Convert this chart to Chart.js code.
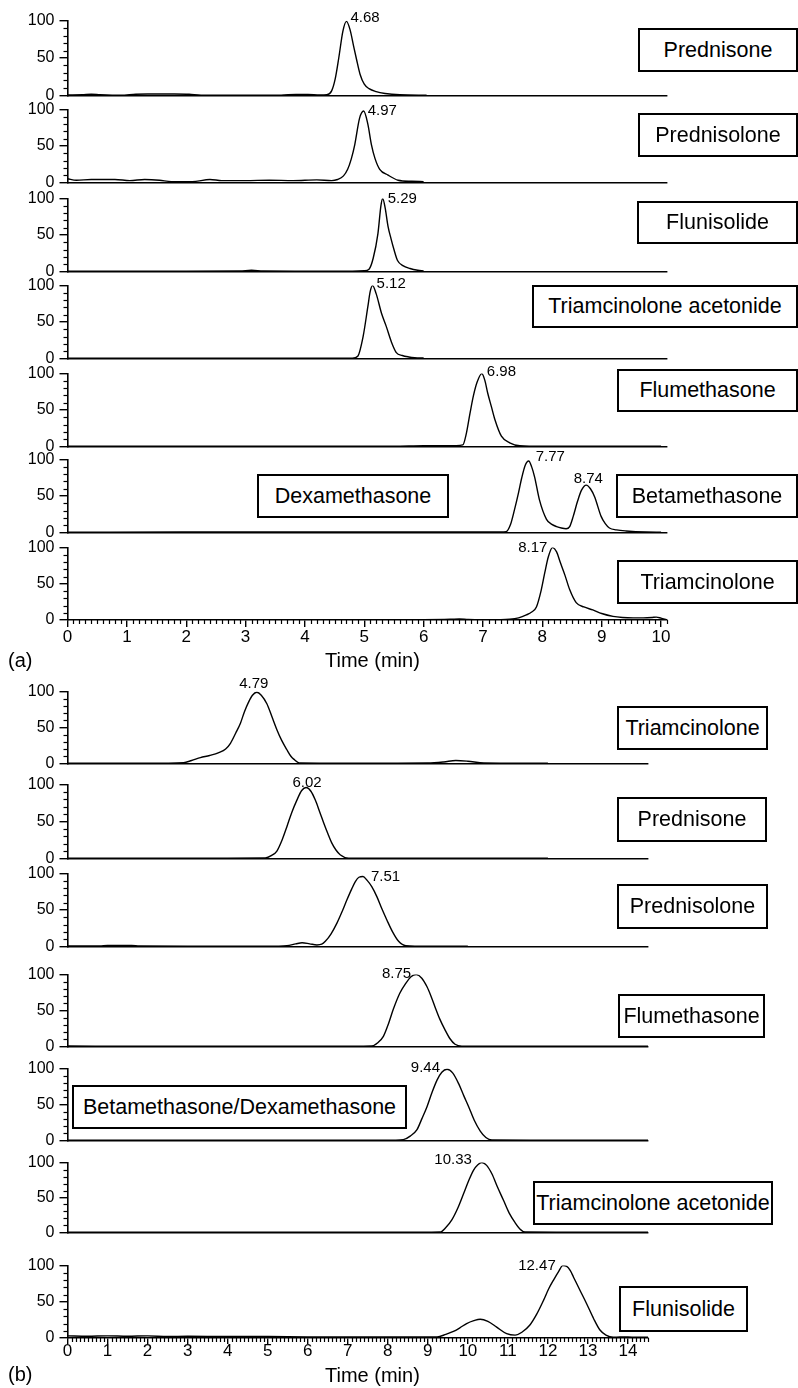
<!DOCTYPE html>
<html><head><meta charset="utf-8">
<script src="https://cdn.jsdelivr.net/npm/chart.js@4.4.1/dist/chart.umd.min.js"></script>
<style>
html,body{margin:0;padding:0;background:#fff;}
#root{position:relative;width:798px;height:1388px;overflow:hidden;background:#fff;}
#root canvas{position:absolute;left:0;}
.box{position:absolute;box-sizing:border-box;border:2px solid #000;background:#fff;font:21.5px "Liberation Sans",Arial,sans-serif;display:flex;align-items:center;justify-content:center;white-space:nowrap;color:#000;z-index:5;}
.txt{position:absolute;font:20px "Liberation Sans",Arial,sans-serif;line-height:24px;color:#000;white-space:nowrap;z-index:5;}
</style></head><body><div id="root"></div>
<script>
// ---------------- DATA: panel (a) ----------------
const a1Time   = [0, 0.25, 0.4, 0.55, 0.9, 1.15, 1.35, 1.8, 2.05, 2.25, 3.0, 3.6, 3.85, 4.05, 4.25, 4.37, 4.45, 4.51, 4.57, 4.64, 4.7, 4.76, 4.82, 4.87, 4.93, 5.0, 5.08, 5.2, 5.35, 5.6, 6.05];
const a1Signal = [0.5, 0.8, 1.6, 1.0, 0.3, 1.6, 1.8, 1.8, 1.5, 0.3, 0.2, 0.4, 1.2, 1.2, 0.6, 1, 6, 22, 50, 86, 99, 88, 66, 48, 28, 15, 9, 5, 2.5, 0.8, 0.3];
const a2Time   = [0, 0.15, 0.4, 0.8, 1.05, 1.3, 1.55, 1.75, 2.1, 2.4, 2.6, 3.0, 3.4, 3.8, 4.2, 4.45, 4.55, 4.65, 4.72, 4.78, 4.84, 4.92, 4.99, 5.06, 5.12, 5.18, 5.26, 5.4, 5.57, 5.8, 6.0];
const a2Signal = [5, 3, 4, 4, 2.5, 4, 3, 1, 1, 4, 2.5, 2.5, 3, 2.5, 3.5, 2.5, 4, 9, 18, 32, 52, 88, 98, 80, 52, 33, 18, 10, 3, 1.5, 1];
const a3Time   = [0, 1, 2, 2.9, 3.1, 3.3, 4, 4.8, 5.0, 5.08, 5.15, 5.23, 5.28, 5.31, 5.35, 5.4, 5.45, 5.5, 5.56, 5.65, 5.77, 5.9, 6.0];
const a3Signal = [0.3, 0.3, 0.3, 0.5, 1.5, 0.5, 0.3, 0.3, 0.8, 3, 18, 52, 90, 100, 88, 62, 45, 30, 15, 8, 4, 1.5, 0.5];
const a4Time   = [0, 2, 4, 4.8, 4.89, 4.98, 5.06, 5.1, 5.14, 5.2, 5.29, 5.37, 5.46, 5.54, 5.64, 5.75, 5.85, 6.0];
const a4Signal = [0.3, 0.3, 0.3, 0.3, 3, 30, 71, 92, 100, 89, 62, 44, 22, 8, 4, 2, 1, 0.5];
const a5Time   = [0, 3, 5.5, 6.0, 6.3, 6.55, 6.66, 6.72, 6.78, 6.84, 6.9, 6.98, 7.03, 7.08, 7.14, 7.2, 7.31, 7.45, 7.62, 8, 9, 10];
const a5Signal = [0.3, 0.3, 0.3, 1, 1, 1, 2, 18, 45, 70, 88, 100, 91, 73, 55, 37, 14, 5, 1, 0.3, 0.3, 0.3];
const a6Time   = [0, 2, 4, 6, 7.0, 7.3, 7.39, 7.46, 7.53, 7.6, 7.65, 7.71, 7.77, 7.82, 7.87, 7.95, 8.07, 8.16, 8.24, 8.32, 8.4, 8.46, 8.52, 8.59, 8.66, 8.74, 8.81, 8.88, 8.99, 9.06, 9.13, 9.25, 9.41, 9.75, 10];
const a6Signal = [0.3, 0.5, 0.5, 0.5, 0.5, 0.5, 1, 10, 31, 55, 74, 92, 98, 90, 76, 45, 18, 11, 8, 6, 5, 8, 22, 42, 58, 65, 60, 49, 22, 12, 6, 3.5, 2, 0.5, 0.3];
const a7Time   = [0, 2, 4, 6, 6.45, 6.6, 6.75, 7.0, 7.3, 7.45, 7.6, 7.73, 7.82, 7.9, 7.98, 8.04, 8.1, 8.17, 8.24, 8.3, 8.38, 8.46, 8.57, 8.7, 8.85, 9.0, 9.19, 9.35, 9.53, 9.7, 9.85, 9.92, 10.0, 10.09];
const a7Signal = [0.3, 0.3, 0.3, 0.5, 1, 1.5, 0.8, 0.5, 0.5, 1, 3, 7, 11, 18, 41, 65, 87, 100, 94, 80, 62, 42, 24, 18, 14, 9, 5, 3.5, 3, 3, 3.5, 4, 2.5, 0.5];

// ---------------- DATA: panel (b) ----------------
const b1Time   = [0, 1, 2, 2.9, 3.1, 3.32, 3.55, 3.78, 3.95, 4.07, 4.2, 4.32, 4.42, 4.52, 4.62, 4.73, 4.84, 4.98, 5.1, 5.23, 5.35, 5.48, 5.58, 5.65, 5.81, 6.5, 8, 9.0, 9.4, 9.7, 10.0, 10.4, 11, 12];
const b1Signal = [0.3, 0.3, 0.3, 1, 4, 8, 11, 15, 20, 28, 42, 56, 72, 85, 95, 99, 95, 83, 66, 47, 32, 19, 10, 6, 0.5, 0.3, 0.3, 0.5, 2, 4, 3, 0.5, 0.3, 0.3];
const b2Time   = [0, 2, 4, 4.94, 5.1, 5.23, 5.36, 5.48, 5.6, 5.73, 5.85, 5.96, 6.08, 6.19, 6.3, 6.4, 6.5, 6.6, 6.71, 6.81, 7.02, 8, 10, 12];
const b2Signal = [0.3, 0.3, 0.3, 0.5, 4, 10, 25, 43, 62, 79, 92, 96, 91, 79, 63, 48, 34, 21, 11, 5, 0.3, 0.3, 0.3, 0.3];
const b3Time   = [0, 0.8, 1.0, 1.6, 1.8, 3, 5, 5.48, 5.7, 5.86, 6.05, 6.23, 6.35, 6.44, 6.58, 6.73, 6.86, 6.98, 7.1, 7.19, 7.28, 7.38, 7.48, 7.6, 7.73, 7.85, 7.98, 8.12, 8.27, 8.45, 9, 10];
const b3Signal = [0.5, 0.5, 1.2, 1.2, 0.5, 0.3, 0.3, 1, 3.5, 5, 3.5, 2, 3, 7, 17, 32, 48, 64, 79, 89, 95, 96, 91, 82, 68, 52, 36, 20, 7, 1, 0.3, 0.3];
const b4Time   = [0, 2, 4, 6, 7.3, 7.6, 7.75, 7.89, 8.02, 8.14, 8.3, 8.44, 8.58, 8.71, 8.85, 8.98, 9.08, 9.18, 9.3, 9.43, 9.55, 9.68, 9.85, 11, 14.5];
const b4Signal = [0.5, 0.3, 0.3, 0.3, 0.3, 0.5, 5, 14, 32, 52, 74, 87, 97, 100, 95, 83, 70, 55, 38, 23, 11, 3, 0.3, 0.3, 0.3];
const b5Time   = [0, 2, 4, 6, 7.5, 8.2, 8.39, 8.56, 8.73, 8.85, 8.98, 9.1, 9.23, 9.35, 9.48, 9.62, 9.77, 9.9, 10.02, 10.16, 10.31, 10.45, 10.6, 12, 14.5];
const b5Signal = [0.3, 0.3, 0.3, 0.3, 0.3, 0.3, 1, 6, 15, 30, 47, 66, 84, 95, 99, 94, 79, 62, 47, 28, 13, 4, 0.5, 0.3, 0.3];
const b6Time   = [0, 3, 6, 9, 9.31, 9.45, 9.6, 9.75, 9.89, 10.02, 10.14, 10.25, 10.35, 10.47, 10.6, 10.74, 10.89, 11.03, 11.18, 11.3, 11.43, 12.5, 14.5];
const b6Signal = [0.3, 0.3, 0.3, 0.3, 0.5, 7, 18, 35, 55, 74, 89, 97, 100, 96, 84, 65, 46, 28, 14, 5, 0.5, 0.3, 0.3];
const b7Time   = [0, 0.5, 1, 1.5, 2, 2.5, 3, 4, 5, 6, 7, 8, 8.8, 9.23, 9.45, 9.64, 9.8, 9.97, 10.15, 10.31, 10.5, 10.72, 10.97, 11.18, 11.35, 11.55, 11.72, 11.89, 12.02, 12.14, 12.27, 12.37, 12.47, 12.56, 12.64, 12.8, 12.97, 13.14, 13.3, 13.45, 13.63, 13.8, 14.0, 14.2, 14.5];
const b7Signal = [3, 2.5, 3, 2.5, 3, 2, 2.5, 2, 2, 1.5, 1.5, 1.5, 1.5, 1.5, 5, 9, 14, 20, 24, 26, 23, 15, 6, 4, 8, 18, 33, 52, 68, 80, 92, 100, 99, 93, 84, 66, 47, 27, 11, 4, 1, 1.5, 1.5, 1, 1];

// ---------------- names, peak labels, ticks ----------------
const namesA = [['Prednisone'], ['Prednisolone'], ['Flunisolide'], ['Triamcinolone acetonide'], ['Flumethasone'], ['Dexamethasone', 'Betamethasone'], ['Triamcinolone']];
const namesB = [['Triamcinolone'], ['Prednisone'], ['Prednisolone'], ['Flumethasone'], ['Betamethasone/Dexamethasone'], ['Triamcinolone acetonide'], ['Flunisolide']];
const peaksA = [['4.68'], ['4.97'], ['5.29'], ['5.12'], ['6.98'], ['7.77', '8.74'], ['8.17']];
const peaksB = [['4.79'], ['6.02'], ['7.51'], ['8.75'], ['9.44'], ['10.33'], ['12.47']];
const yTickValues = [0, 50, 100];
const xTicksA = [0, 1, 2, 3, 4, 5, 6, 7, 8, 9, 10];
const xTicksB = [0, 1, 2, 3, 4, 5, 6, 7, 8, 9, 10, 11, 12, 13, 14];
const xTitle = 'Time (min)';

const timesA = [a1Time, a2Time, a3Time, a4Time, a5Time, a6Time, a7Time];
const signalsA = [a1Signal, a2Signal, a3Signal, a4Signal, a5Signal, a6Signal, a7Signal];
const timesB = [b1Time, b2Time, b3Time, b4Time, b5Time, b6Time, b7Time];
const signalsB = [b1Signal, b2Signal, b3Signal, b4Signal, b5Signal, b6Signal, b7Signal];

// ---------------- LAYOUT (positions / styles only) ----------------
const layoutA = {xMax: 10.1, right: 667, tickPad: 0, tickLen: 7,
  panels: [{top:20,bottom:96},{top:109,bottom:183},{top:198,bottom:272},{top:285,bottom:359},{top:373,bottom:447},{top:459,bottom:533},{top:547,bottom:620}],
  boxes: [[[638,28,160,44]],[[638,113,160,44]],[[637,201,161,43]],[[532,285,266,43]],[[617,369,181,43]],[[257,474,192,44],[616,474,182,44]],[[617,560,181,44]]],
  labelStyle: [[{side:'right',dx:4,dy:-3}],[{side:'right',dx:4,dy:0}],[{side:'right',dx:5,dy:0}],[{side:'right',dx:4,dy:-2}],[{side:'right',dx:5,dy:-2}],[{side:'right',dx:7,dy:-4},{side:'above',dx:2,dy:-2}],[{side:'left',dx:-5,dy:0}]],
  tag: {text:'(a)', x:8, y:648}, title: {x:325, y:648}};
const layoutB = {xMax: 14.5, right: 648, tickPad: -3, tickLen: 6,
  panels: [{top:691,bottom:764},{top:784,bottom:859},{top:873,bottom:947},{top:974,bottom:1047},{top:1068,bottom:1141},{top:1162,bottom:1233},{top:1265,bottom:1338}],
  boxes: [[[617,706,151,44]],[[617,797,150,45]],[[617,884,151,45]],[[618,994,147,44]],[[72,1085,335,44]],[[533,1181,240,44]],[[619,1286,129,46]]],
  labelStyle: [[{side:'above',dx:-3,dy:-4}],[{side:'above',dx:1,dy:-1}],[{side:'right',dx:8,dy:0}],[{side:'left',dx:-5,dy:-1}],[{side:'left',dx:-7,dy:-1}],[{side:'left',dx:-10,dy:-3}],[{side:'left',dx:-7,dy:0}]],
  tag: {text:'(b)', x:8, y:1362}, title: {x:325, y:1363}};

const FONT = '"Liberation Sans", Arial, Helvetica, sans-serif';
Chart.defaults.font.family = FONT;
Chart.defaults.color = '#000';

// draws minor ticks through the chart's own scales
const minorTicks = {
  id: 'minorTicks',
  afterDraw(chart, args, opts) {
    const ctx = chart.ctx;
    ctx.save();
    ctx.strokeStyle = '#000';
    ctx.lineWidth = 1.2;
    const ys = chart.scales.y;
    for (let v = ys.min + opts.yStep; v < ys.max - 1e-6; v += opts.yStep) {
      if (yTickValues.some(t => Math.abs(t - v) < 1e-6)) continue;
      const py = Math.round(ys.getPixelForValue(v)) + 0.5;
      ctx.beginPath(); ctx.moveTo(ys.right - opts.yLen, py); ctx.lineTo(ys.right, py); ctx.stroke();
    }
    if (opts.xStep) {
      const xs = chart.scales.x;
      const n = Math.floor(xs.max / opts.xStep + 1e-6);
      for (let i = 1; i <= n; i++) {
        const v = i * opts.xStep;
        if (Math.abs(v - Math.round(v)) < 1e-6) continue;
        const px = Math.round(xs.getPixelForValue(v)) + 0.5;
        ctx.beginPath(); ctx.moveTo(px, xs.top); ctx.lineTo(px, xs.top + opts.xLen); ctx.stroke();
      }
    }
    ctx.restore();
  }
};

// writes the retention-time labels next to the peaks
const peakLabels = {
  id: 'peakLabels',
  afterDatasetsDraw(chart, args, opts) {
    const items = opts.items || [];
    const ctx = chart.ctx, xs = chart.scales.x, ys = chart.scales.y;
    const data = chart.data.datasets[0].data;
    ctx.save();
    ctx.font = '15px ' + FONT;
    ctx.fillStyle = '#000';
    items.forEach(it => {
      const t = parseFloat(it.text);
      let best = null;
      data.forEach(d => { if (Math.abs(d.x - t) <= 0.3 && (!best || d.y > best.y)) best = d; });
      if (!best) return;
      const px = xs.getPixelForValue(best.x), py = ys.getPixelForValue(best.y);
      if (it.side === 'right') { ctx.textAlign = 'left'; ctx.textBaseline = 'middle'; }
      else if (it.side === 'left') { ctx.textAlign = 'right'; ctx.textBaseline = 'middle'; }
      else { ctx.textAlign = 'center'; ctx.textBaseline = 'alphabetic'; }
      ctx.fillText(it.text, px + it.dx, py + it.dy);
    });
    ctx.restore();
  }
};

const root = document.getElementById('root');

function makePanel(layout, idx, times, signals, peaks, isBottom, xTicks) {
  const p = layout.panels[idx];
  const padTop = 14;
  const axisH = isBottom ? 34 : 0;
  const padBottom = isBottom ? 0 : 14;
  const h = padTop + (p.bottom - p.top) + axisH + padBottom;
  const cv = document.createElement('canvas');
  cv.width = 798; cv.height = h;
  cv.style.top = (p.top - padTop) + 'px';
  cv.style.width = '798px'; cv.style.height = h + 'px';
  root.appendChild(cv);
  const points = times.map((t, i) => ({x: t, y: signals[i]}));
  const items = peaks.map((txt, k) => Object.assign({text: txt}, layout.labelStyle[idx][k]));
  new Chart(cv.getContext('2d'), {
    type: 'line',
    data: {datasets: [{data: points, borderColor: '#000', borderWidth: 1.4, pointRadius: 0, fill: false, cubicInterpolationMode: 'monotone'}]},
    options: {
      responsive: false, animation: false, devicePixelRatio: 1,
      layout: {padding: {top: padTop, bottom: padBottom, left: 0, right: 798 - layout.right}},
      plugins: {
        legend: {display: false}, tooltip: {enabled: false},
        minorTicks: {yStep: 10, yLen: 4, xStep: isBottom ? 0.1 : 0, xLen: 4},
        peakLabels: {items: items}
      },
      scales: {
        x: {
          type: 'linear', min: 0, max: layout.xMax,
          border: {display: true, color: '#000', width: 1.6},
          grid: {display: true, drawOnChartArea: false, drawTicks: isBottom, tickLength: layout.tickLen, color: '#000', lineWidth: 1.4},
          ticks: {display: isBottom, stepSize: 1, includeBounds: false, padding: layout.tickPad, color: '#000', font: {size: 17}, maxRotation: 0, autoSkip: false,
                  callback: v => xTicks.includes(v) ? String(v) : ''},
          afterFit: s => { s.height = axisH; }
        },
        y: {
          min: 0, max: 100,
          border: {display: true, color: '#000', width: 1.6},
          grid: {display: true, drawOnChartArea: false, drawTicks: true, tickLength: 8, color: '#000', lineWidth: 1.4},
          ticks: {stepSize: 50, padding: 5, color: '#000', font: {size: 16},
                  callback: v => yTickValues.includes(v) ? String(v) : ''},
          afterFit: s => { s.width = 67.5; }
        }
      }
    },
    plugins: [minorTicks, peakLabels]
  });
  // compound name boxes
  const names = (layout === layoutA ? namesA : namesB)[idx];
  names.forEach((nm, k) => {
    const r = layout.boxes[idx][k];
    const d = document.createElement('div');
    d.className = 'box';
    d.style.left = r[0] + 'px'; d.style.top = r[1] + 'px';
    d.style.width = r[2] + 'px'; d.style.height = r[3] + 'px';
    d.textContent = nm;
    root.appendChild(d);
  });
}

function addText(txt, x, y) {
  const d = document.createElement('div');
  d.className = 'txt';
  d.style.left = x + 'px'; d.style.top = y + 'px';
  d.textContent = txt;
  root.appendChild(d);
}

for (let i = 0; i < 7; i++) makePanel(layoutA, i, timesA[i], signalsA[i], peaksA[i], i === 6, xTicksA);
for (let i = 0; i < 7; i++) makePanel(layoutB, i, timesB[i], signalsB[i], peaksB[i], i === 6, xTicksB);
addText(layoutA.tag.text, layoutA.tag.x, layoutA.tag.y);
addText(xTitle, layoutA.title.x, layoutA.title.y);
addText(layoutB.tag.text, layoutB.tag.x, layoutB.tag.y);
addText(xTitle, layoutB.title.x, layoutB.title.y);
</script>
</body></html>
